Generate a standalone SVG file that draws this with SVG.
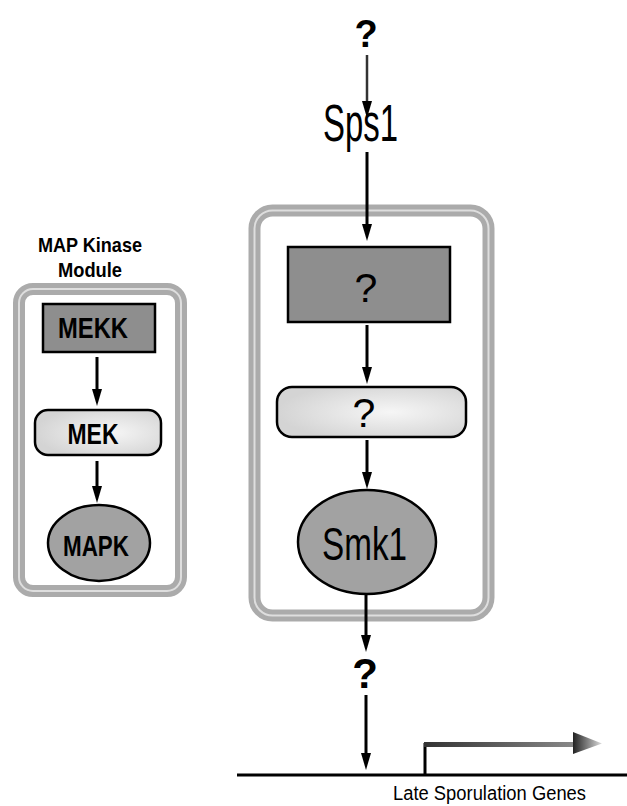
<svg xmlns="http://www.w3.org/2000/svg" width="627" height="806" viewBox="0 0 627 806">
<defs>
<marker id="ah" markerUnits="userSpaceOnUse" markerWidth="17" markerHeight="11" refX="9" refY="5.5" orient="auto">
<path d="M0,0.5 L17,5.5 L0,10.5 Z" fill="#000"/>
</marker>
<linearGradient id="barg" x1="0" y1="0" x2="1" y2="0">
<stop offset="0" stop-color="#333"/>
<stop offset="1" stop-color="#888"/>
</linearGradient>
<linearGradient id="headg" x1="0" y1="0" x2="1" y2="0">
<stop offset="0" stop-color="#222"/>
<stop offset="1" stop-color="#ddd"/>
</linearGradient>
<radialGradient id="lightg" cx="0.6" cy="0.5" r="0.6">
<stop offset="0" stop-color="#f6f6f6"/>
<stop offset="1" stop-color="#d4d4d4"/>
</radialGradient>
</defs>
<style>
.band{fill:none;stroke:#ababab;stroke-width:12}
.bandc{fill:none;stroke:#dedede;stroke-width:2}
.dark{fill:#8e8e8e;stroke:#000;stroke-width:2.5}
.light{fill:url(#lightg);stroke:#000;stroke-width:2.5}
.oval{fill:#a2a2a2;stroke:#000;stroke-width:2.5}
.b{font-family:"Liberation Sans",Arial,sans-serif;font-weight:bold;fill:#000}
.r{font-family:"Liberation Sans",Arial,sans-serif;fill:#000}
.arr{stroke:#000;stroke-width:3;fill:none;marker-end:url(#ah)}
</style>

<g id="map-kinase-label">
<text class="b" x="90" y="252" font-size="21" text-anchor="middle" textLength="104" lengthAdjust="spacingAndGlyphs">MAP Kinase</text>
<text class="b" x="90" y="277" font-size="21" text-anchor="middle" textLength="64" lengthAdjust="spacingAndGlyphs">Module</text>
</g>

<g id="left-module">
<rect class="band" x="19" y="289" width="162" height="302" rx="14"/>
<rect class="bandc" x="19" y="289" width="162" height="302" rx="14"/>
</g>
<g id="mekk">
<rect class="dark" x="43" y="304" width="112" height="48"/>
<text class="b" x="93" y="338" font-size="29" text-anchor="middle" textLength="70" lengthAdjust="spacingAndGlyphs">MEKK</text>
</g>
<g id="mek">
<rect class="light" x="35" y="410" width="126" height="45" rx="13"/>
<text class="b" x="93" y="444" font-size="29" text-anchor="middle" textLength="51" lengthAdjust="spacingAndGlyphs">MEK</text>
</g>
<g id="mapk">
<ellipse class="oval" cx="99" cy="543" rx="51" ry="38"/>
<text class="b" x="96" y="556" font-size="29" text-anchor="middle" textLength="66" lengthAdjust="spacingAndGlyphs">MAPK</text>
</g>

<g id="top-q">
<text class="b" x="366" y="47" font-size="38" text-anchor="middle">?</text>
</g>
<g id="sps1">
<text class="r" x="360.5" y="141" font-size="51" text-anchor="middle" textLength="75" lengthAdjust="spacingAndGlyphs">Sps1</text>
</g>

<g id="right-module">
<rect class="band" x="254.5" y="210.5" width="234" height="405" rx="18"/>
<rect class="bandc" x="254.5" y="210.5" width="234" height="405" rx="18"/>
</g>
<g id="q-mekk">
<rect class="dark" x="288" y="247" width="162" height="75"/>
<text class="r" x="366" y="302" font-size="41" text-anchor="middle">?</text>
</g>
<g id="q-mek">
<rect class="light" x="277" y="387" width="189" height="50" rx="15"/>
<text class="r" x="364" y="427" font-size="41" text-anchor="middle">?</text>
</g>
<g id="smk1">
<ellipse class="oval" cx="367" cy="542" rx="69" ry="52"/>
<text class="r" x="364.5" y="560" font-size="46" text-anchor="middle" textLength="85" lengthAdjust="spacingAndGlyphs">Smk1</text>
</g>
<g id="bottom-q">
<text class="b" x="365" y="688" font-size="42" text-anchor="middle">?</text>
</g>

<g id="gene">
<line x1="237" y1="775" x2="627" y2="775" stroke="#000" stroke-width="3"/>
<path d="M425,776 L425,743" stroke="#000" stroke-width="3" fill="none"/>
<rect x="424" y="742" width="150" height="5" fill="url(#barg)"/>
<polygon points="573,732 602,743.5 573,754" fill="url(#headg)"/>
<text class="r" x="489.5" y="800" font-size="20" text-anchor="middle" textLength="193" lengthAdjust="spacingAndGlyphs">Late Sporulation Genes</text>
</g>

<g id="connectors">
<line class="arr" x1="367" y1="55" x2="367" y2="110" style="stroke:#333;stroke-width:2.5"/>
<line class="arr" x1="367" y1="152" x2="367" y2="233"/>
<line class="arr" x1="367" y1="325" x2="367" y2="376"/>
<line class="arr" x1="367" y1="440" x2="367" y2="481"/>
<line class="arr" x1="366" y1="595" x2="366" y2="644"/>
<line class="arr" x1="366" y1="695" x2="366" y2="762"/>
<line class="arr" x1="97" y1="357" x2="97" y2="398"/>
<line class="arr" x1="97" y1="461" x2="97" y2="495"/>
</g>
</svg>
